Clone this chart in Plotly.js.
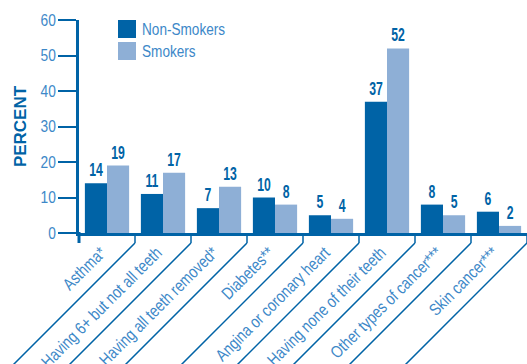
<!DOCTYPE html>
<html>
<head>
<meta charset="utf-8">
<script src="https://cdn.plot.ly/plotly-3.0.1.min.js"></script>
<style>html,body{margin:0;padding:0;background:#fff;}#chart{width:527px;height:364px;}</style>
</head>
<body>
<div id="chart"></div>
<script>
var categories = ["Asthma*", "Having 6+ but not all teeth", "Having all teeth removed*", "Diabetes**", "Angina or coronary heart", "Having none of their teeth", "Other types of cancer***", "Skin cancer***"];
var seriesNames = ["Non-Smokers", "Smokers"];
var nonSmokers = [14, 11, 7, 10, 5, 37, 8, 6];
var smokers = [19, 17, 13, 8, 4, 52, 5, 2];
var yTickVals = [0, 10, 20, 30, 40, 50, 60];
var yTitle = "PERCENT";

var DARK = "#0063a6";
var LIGHT = "#8eafd6";
var TXT = "#3d88c8";
var SANS = "Liberation Sans, Arial, sans-serif";

var numFont = {family: SANS, size: 18, color: DARK, weight: "bold"};

var traces = [
  {type: "bar", name: seriesNames[0], x: categories, y: nonSmokers, marker: {color: DARK},
   text: nonSmokers.map(String), textposition: "outside", constraintext: "none", textfont: numFont, cliponaxis: false, hoverinfo: "none"},
  {type: "bar", name: seriesNames[1], x: categories, y: smokers, marker: {color: LIGHT},
   text: smokers.map(String), textposition: "outside", constraintext: "none", textfont: numFont, cliponaxis: false, hoverinfo: "none"}
];

var shapes = [];
// y-axis extension below zero
shapes.push({type: "line", xref: "paper", x0: 0, x1: 0, yref: "paper", ysizemode: "pixel", yanchor: 0, y0: 1, y1: -10,
  line: {color: DARK, width: 3}});
// category separators with diagonal leader lines
var n = categories.length;
for (var k = 1; k <= n; k++) {
  shapes.push({type: "line", xref: "paper", xsizemode: "pixel", xanchor: k / n, x0: 0, x1: 0,
    yref: "paper", ysizemode: "pixel", yanchor: 0, y0: 0, y1: -10, line: {color: DARK, width: 1.5}});
  shapes.push({type: "line", xref: "paper", xsizemode: "pixel", xanchor: k / n, x0: 0, x1: -140,
    yref: "paper", ysizemode: "pixel", yanchor: 0, y0: -10, y1: -150, line: {color: DARK, width: 1.5}});
}
// manual legend
var legColors = [DARK, LIGHT];
var annotations = [];
for (var i = 0; i < seriesNames.length; i++) {
  shapes.push({type: "rect", xref: "paper", xsizemode: "pixel", xanchor: 0, x0: 39, x1: 57,
    yref: "paper", ysizemode: "pixel", yanchor: 1, y0: -22 * i, y1: -22 * i - 18,
    fillcolor: legColors[i], line: {width: 0}});
  annotations.push({xref: "paper", x: 0, xshift: 61, xanchor: "left", yref: "paper", y: 1, yshift: -22 * i - 9,
    yanchor: "middle", text: seriesNames[i], showarrow: false,
    font: {family: SANS, size: 17, color: TXT}});
}

var layout = {
  width: 527, height: 364,
  margin: {l: 79, r: 0, t: 20, b: 131},
  paper_bgcolor: "#fff", plot_bgcolor: "#fff",
  barmode: "group", bargap: 0.21, bargroupgap: 0,
  showlegend: false,
  xaxis: {
    type: "category", showline: true, linecolor: DARK, linewidth: 3, ticks: "", showgrid: false,
    tickangle: -45, tickfont: {family: SANS, size: 17, color: TXT}, zeroline: false,
    ticklabelstandoff: 0, ticklabelshift: -6
  },
  yaxis: {
    range: [0, 60], tickvals: yTickVals, showline: true, linecolor: DARK, linewidth: 3,
    ticks: "outside", ticklen: 18, tickwidth: 2, tickcolor: DARK, showgrid: false, zeroline: false,
    tickfont: {family: SANS, size: 16, color: TXT}, ticklabelstandoff: -1,
    title: {text: yTitle, font: {family: SANS, size: 17, color: DARK, weight: "bold"}, standoff: 8}
  },
  shapes: shapes,
  annotations: annotations
};

// horizontally condense text along its own baseline (emulates a narrow typeface)
function condense(sel, s, useLeft) {
  var els = document.querySelectorAll(sel);
  els.forEach(function (el) {
    var X = parseFloat(el.getAttribute("x")) || 0;
    var Y = parseFloat(el.getAttribute("y")) || 0;
    if (useLeft) { try { X = el.getBBox().x; } catch (e) {} }
    var t = el.getAttribute("transform") || "";
    el.setAttribute("transform", (t + " translate(" + X + "," + Y + ") scale(" + s + ",1) translate(" + (-X) + "," + (-Y) + ")").trim());
  });
}

Plotly.newPlot("chart", traces, layout, {displayModeBar: false, staticPlot: true}).then(function () {
  condense("#chart .xtick text", 0.82, false);
  condense("#chart .ytick text", 0.86, false);
  condense("#chart .bartext", 0.68, false);
  condense("#chart .annotation-text", 0.8, true);
});
</script>
</body>
</html>
